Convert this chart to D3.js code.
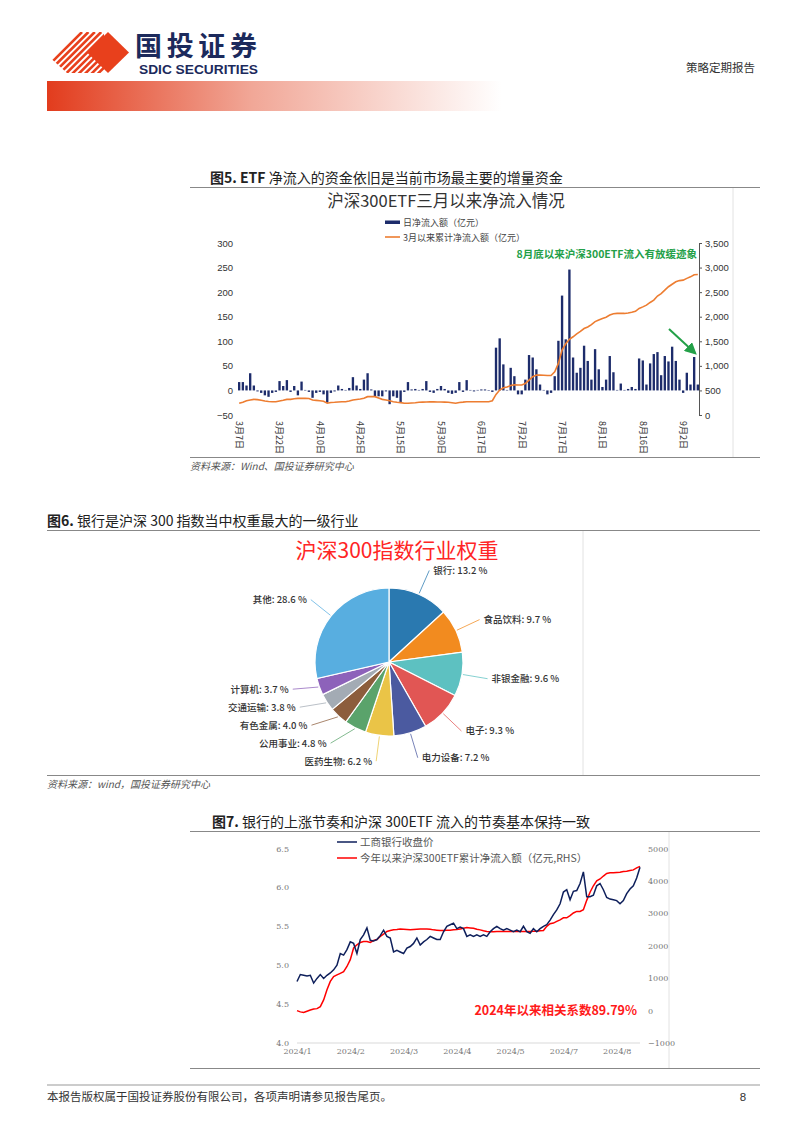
<!DOCTYPE html>
<html>
<head>
<meta charset="utf-8">
<script src="https://cdn.jsdelivr.net/npm/d3@7"></script>
<style>
  body { margin: 0; background: #fff; }
  text { font-family: "Noto Sans CJK SC", "Noto Sans", sans-serif; }
</style>
</head>
<body>
<div id="page"></div>
<script>
// ---- chart 1: daily / cumulative ETF flow since March
var etfDates = ["3月7日", "3月22日", "4月10日", "4月25日", "5月15日", "5月30日",
  "6月17日", "7月2日", "7月17日", "8月1日", "8月16日", "9月2日"];
var etfDaily = [17, 17, 10, 35, 10, -2, -5, -10, -13, -5, -3, 19, 9, 21, -3, 9, -10, 18, 1, -3,
  -15, -5, -3, -8, -25, -5, -2, 10, 3, 1, 5, 27, 10, 3, 22, 35, 2, -12, -12, -12,
  -2, -28, -12, -15, -25, -3, 17, 2, 3, 1, 3, 19, -3, -5, 3, 9, 3, -5, -7, -5,
  17, -3, 21, 1, -2, 1, 2, 2, -1, -3,
  87, 106, 53, 1, 46, 29, -8, -8, 22, 72, 67, 43, 12, 1, -8, -5, 29, 101, 193, 104,
  246, 67, 36, 46, 91, 60, 22, 84, 43, 7, 22, 70, 37, 1, 14, 1, 3, 7, 3, 65,
  61, 12, 55, 74, 78, 31, 70, 59, 89, 60, 22, -5, 36, 12, 68, 12];
var etfCumulative = [238, 260, 290, 305, 318, 312, 300, 285, 275, 271, 271, 285, 300, 318, 318,
  330, 339, 339, 339, 335, 305, 298, 291, 280, 240, 255, 258, 265, 271, 271,
  285, 305, 315, 325, 339, 373, 375, 373, 345, 318, 305, 290, 271, 260, 251,
  240, 238, 245, 250, 258, 262, 265, 271, 268, 265, 265, 262, 258, 250, 238,
  255, 262, 271, 271, 271, 271, 271, 271, 271, 290,
  420, 508, 555, 570, 600, 615, 610, 610, 640, 711, 779, 813, 812, 808, 805,
  805, 881, 1050, 1321, 1450, 1540, 1592, 1650, 1700, 1760, 1790, 1840, 1900, 1935, 1965,
  1990, 2033, 2060, 2067, 2067, 2067, 2075, 2090, 2110, 2168, 2200, 2236, 2290, 2337, 2420,
  2470, 2541, 2610, 2660, 2710, 2735, 2744, 2780, 2811, 2855, 2860];
var etfLeftTicks = [300, 250, 200, 150, 100, 50, 0, -50];
var etfRightTicks = [3500, 3000, 2500, 2000, 1500, 1000, 500, 0];

// ---- chart 2: CSI 300 industry weights
var pieSectors = ["银行", "食品饮料", "非银金融", "电子", "电力设备", "医药生物",
  "公用事业", "有色金属", "交通运输", "计算机", "其他"];
var pieWeights = [13.2, 9.7, 9.6, 9.3, 7.2, 6.2, 4.8, 4.0, 3.8, 3.7, 28.6];

// ---- chart 3: ICBC close vs YTD ETF inflow
var icbcDates = ["2024/1", "2024/2", "2024/3", "2024/4", "2024/5", "2024/7", "2024/8"];
var icbcClose = [4.79, 4.88, 4.87, 4.86, 4.87, 4.77, 4.83, 4.88, 4.83, 4.87,
  4.90, 4.94, 5.00, 5.15, 5.13, 5.20, 5.30, 5.28, 5.15, 5.33,
  5.39, 5.48, 5.32, 5.31, 5.33, 5.38, 5.45, 5.37, 5.35, 5.17,
  5.19, 5.17, 5.15, 5.22, 5.24, 5.28, 5.35, 5.26, 5.30, 5.33,
  5.37, 5.35, 5.33, 5.33, 5.43, 5.50, 5.52, 5.54, 5.47, 5.49,
  5.47, 5.37, 5.39, 5.37, 5.39, 5.37, 5.39, 5.37, 5.43, 5.47,
  5.50, 5.47, 5.45, 5.47, 5.45, 5.43, 5.45, 5.43, 5.50, 5.43,
  5.41, 5.47, 5.43, 5.47, 5.50, 5.52, 5.58, 5.65, 5.71, 5.79,
  5.94, 5.97, 5.84, 5.95, 5.96, 6.05, 6.20, 5.88, 5.88, 5.90,
  6.02, 6.05, 5.97, 5.87, 5.85, 5.84, 5.83, 5.79, 5.83, 5.92,
  5.98, 6.02, 6.12, 6.26];
var etfYtdFlow = [0, -40, -60, -20, 20, 50, 60, 120, 330, 640,
  900, 1050, 1100, 1150, 1200, 1360, 1570, 1930, 2030, 2100,
  2130, 2130, 2100, 2160, 2190, 2290, 2360, 2440, 2470, 2490,
  2500, 2520, 2510, 2500, 2490, 2500, 2510, 2520, 2520, 2520,
  2510, 2490, 2480, 2470, 2470, 2480, 2480, 2490, 2500, 2520,
  2540, 2560, 2550, 2540, 2510, 2490, 2460, 2440, 2430, 2430,
  2440, 2440, 2440, 2440, 2440, 2440, 2440, 2440, 2440, 2440,
  2440, 2450, 2450, 2460, 2470, 2600, 2680, 2700, 2750, 2800,
  2860, 2860, 2930, 3010, 3060, 3060, 3110, 3400, 3650, 3850,
  4000, 4060, 4150, 4230, 4250, 4250, 4260, 4270, 4290, 4300,
  4320, 4340, 4400, 4450];
var icbcLeftTicks = [6.5, 6.0, 5.5, 5.0, 4.5, 4.0];
var icbcRightTicks = [5000, 4000, 3000, 2000, 1000, 0, -1000];


var W = 802, H = 1133;
var svg = d3.select("#page").append("svg")
  .attr("width", W)
  .attr("height", H);
svg.append("rect").attr("width", W).attr("height", H).attr("fill", "#fff");
var defs = svg.append("defs");

// ---------------- header
var grad = defs.append("linearGradient").attr("id", "hdrGrad");
grad.append("stop").attr("offset", "0%").attr("stop-color", "#e23c1d");
grad.append("stop").attr("offset", "45%").attr("stop-color", "#f1a797");
grad.append("stop").attr("offset", "100%").attr("stop-color", "#ffffff");
svg.append("rect")
  .attr("x", 47).attr("y", 81).attr("width", 455).attr("height", 30)
  .attr("fill", "url(#hdrGrad)");

defs.append("clipPath").attr("id", "stripeClip")
  .append("polygon").attr("points", "46,54 68,32 104,32 104,73 67,73");
var logo = svg.append("g").attr("clip-path", "url(#stripeClip)");
d3.range(10).forEach(function (i) {
  var x0 = 36 + i * 6.4;
  logo.append("line")
    .attr("x1", x0).attr("y1", 78).attr("x2", x0 + 46).attr("y2", 32)
    .attr("stroke", "#e8401c").attr("stroke-width", 2.6);
});
svg.append("polygon").attr("points", "108,32 129,52.5 108,73 87,52.5").attr("fill", "#e8401c");

svg.append("text")
  .attr("x", 135).attr("y", 55.5)
  .attr("textLength", 122)
  .style("font-size", "27px").style("font-weight", "bold").style("fill", "#1c2a5c")
  .text("国投证券");
svg.append("text")
  .attr("x", 139).attr("y", 73.5)
  .attr("textLength", 119).attr("lengthAdjust", "spacingAndGlyphs")
  .style("font-family", '"Liberation Sans Narrow", "Liberation Sans", sans-serif')
  .style("font-size", "12px").style("font-weight", "bold").style("fill", "#1c2a5c")
  .text("SDIC SECURITIES");
svg.append("text")
  .attr("x", 755).attr("y", 72)
  .attr("text-anchor", "end")
  .style("font-size", "11.5px").style("fill", "#333")
  .text("策略定期报告");

// helper for section headings
function heading(x, y, prefix, rest) {
  var t = svg.append("text").attr("x", x).attr("y", y)
    .style("font-size", "14px").style("fill", "#222");
  t.append("tspan").style("font-weight", "bold").text(prefix);
  t.append("tspan").text(rest);
}
function rule(x1, x2, y, w, c) {
  svg.append("line").attr("x1", x1).attr("x2", x2).attr("y1", y).attr("y2", y)
    .attr("stroke", c || "#888").attr("stroke-width", w || 1.2);
}
function vrule(x, y1, y2) {
  svg.append("line").attr("x1", x).attr("x2", x).attr("y1", y1).attr("y2", y2)
    .attr("stroke", "#e2e2e2").attr("stroke-width", 1);
}

// ---------------- chart 1
heading(210, 183, "图5. ETF ", "净流入的资金依旧是当前市场最主要的增量资金");
rule(190, 760, 187.5);
vrule(733, 188, 457);

svg.append("text")
  .attr("x", 446).attr("y", 207)
  .attr("text-anchor", "middle")
  .style("font-size", "16.5px").style("fill", "#333")
  .text("沪深300ETF三月以来净流入情况");

// legend
svg.append("rect").attr("x", 385).attr("y", 220.5).attr("width", 15).attr("height", 3.5).attr("fill", "#1d2c6b");
svg.append("text").attr("x", 403).attr("y", 225.5)
  .style("font-size", "9px").style("fill", "#444").text("日净流入额（亿元）");
svg.append("line").attr("x1", 385).attr("x2", 400).attr("y1", 237).attr("y2", 237)
  .attr("stroke", "#ed7d31").attr("stroke-width", 1.6);
svg.append("text").attr("x", 403).attr("y", 240.5)
  .style("font-size", "9px").style("fill", "#444").text("3月以来累计净流入额（亿元）");

var x1 = d3.scaleBand()
  .domain(d3.range(etfDaily.length))
  .range([238, 699])
  .paddingInner(0.36);
var yL = d3.scaleLinear().domain([-50, 300]).range([415, 243]);
var yR = d3.scaleLinear().domain([0, 3500]).range([415, 243]);

var leftAxis = svg.append("g")
  .attr("transform", "translate(236,0)")
  .call(d3.axisLeft(yL).tickValues(etfLeftTicks).tickSize(0).tickPadding(3));
leftAxis.select(".domain").remove();
leftAxis.selectAll("text")
  .style("font-family", '"Liberation Sans", Arial, sans-serif')
  .style("font-size", "9.5px").style("fill", "#333");

var rightAxis = svg.append("g")
  .attr("transform", "translate(699,0)")
  .call(d3.axisRight(yR).tickValues(etfRightTicks).tickFormat(d3.format(","))
    .tickSize(3).tickSizeOuter(0).tickPadding(3));
rightAxis.select(".domain").attr("stroke", "#555");
rightAxis.selectAll("line").attr("stroke", "#555");
rightAxis.selectAll("text")
  .style("font-family", '"Liberation Sans", Arial, sans-serif')
  .style("font-size", "9.5px").style("fill", "#333");

svg.append("g").selectAll("rect")
  .data(etfDaily)
  .enter()
  .append("rect")
  .attr("x", (d, i) => x1(i))
  .attr("y", d => yL(Math.max(0, d)))
  .attr("width", x1.bandwidth())
  .attr("height", d => Math.abs(yL(d) - yL(0)))
  .attr("fill", "#1d2c6b");

var cumLine = d3.line()
  .x((d, i) => x1(i) + x1.bandwidth() / 2)
  .y(d => yR(d));
svg.append("path")
  .datum(etfCumulative)
  .attr("d", cumLine)
  .attr("fill", "none")
  .attr("stroke", "#ed7d31")
  .attr("stroke-width", 1.6);

svg.append("g").selectAll("text")
  .data(etfDates)
  .enter()
  .append("text")
  .attr("transform", (d, i) => `translate(${x1(i * 11) + x1.bandwidth() / 2}, 421) rotate(90)`)
  .attr("dy", "0.35em")
  .style("font-size", "9px").style("fill", "#333")
  .text(d => d);

svg.append("text")
  .attr("x", 697).attr("y", 258)
  .attr("text-anchor", "end")
  .style("font-size", "10.5px").style("font-weight", "bold").style("fill", "#23a048")
  .text("8月底以来沪深300ETF流入有放缓迹象");

defs.append("marker").attr("id", "greenHead")
  .attr("viewBox", "0 0 10 10").attr("refX", 8).attr("refY", 5)
  .attr("markerWidth", 6).attr("markerHeight", 6).attr("orient", "auto")
  .append("path").attr("d", "M0,0 L10,5 L0,10 z").attr("fill", "#23a048");
svg.append("line")
  .attr("x1", 669).attr("y1", 329).attr("x2", 695).attr("y2", 353)
  .attr("stroke", "#23a048").attr("stroke-width", 2)
  .attr("marker-end", "url(#greenHead)");

rule(190, 760, 457.5);
svg.append("text").attr("x", 190).attr("y", 470)
  .style("font-size", "10px").style("font-style", "italic").style("fill", "#555")
  .text("资料来源：Wind、国投证券研究中心");

// ---------------- chart 2
heading(47, 526, "图6. ", "银行是沪深 300 指数当中权重最大的一级行业");
rule(47, 760, 530.5);
vrule(583, 531, 775);

svg.append("text")
  .attr("x", 397).attr("y", 558)
  .attr("text-anchor", "middle")
  .style("font-size", "21px").style("fill", "#ff2525")
  .text("沪深300指数行业权重");

var pieColor = d3.scaleOrdinal()
  .domain(pieSectors)
  .range(["#2a79b0", "#f28b1f", "#5dc1c1", "#e15654", "#4b5aa0", "#eac447",
    "#5aa36b", "#8c5d3c", "#a3abb4", "#8d62ba", "#58aee0"]);

var cx = 389, cy = 662, r = 74, labelR = 100;
var pie = d3.pie().sort(null).value(d => d);
var arcs = pie(pieWeights);
var arc = d3.arc().innerRadius(0).outerRadius(r);

var pieG = svg.append("g").attr("transform", `translate(${cx},${cy})`);
pieG.selectAll("path")
  .data(arcs)
  .enter()
  .append("path")
  .attr("d", arc)
  .attr("fill", (d, i) => pieColor(pieSectors[i]))
  .attr("stroke", "#fff")
  .attr("stroke-width", 1.2);

// label anchors on a circle, spread apart so they do not overlap
var labels = arcs.map(function (a, i) {
  var m = (a.startAngle + a.endAngle) / 2;
  return {
    i: i, m: m,
    x: Math.sin(m) * labelR, y: -Math.cos(m) * labelR,
    sx: Math.sin(m) * (r + 1), sy: -Math.cos(m) * (r + 1)
  };
});
var leftSide = labels.filter(d => d.x < 0).sort((a, b) => b.y - a.y);
for (var k = 1; k < leftSide.length; k++) {
  leftSide[k].y = Math.min(leftSide[k].y, leftSide[k - 1].y - 18);
}
var rightSide = labels.filter(d => d.x >= 0).sort((a, b) => a.y - b.y);
for (var k = 1; k < rightSide.length; k++) {
  rightSide[k].y = Math.max(rightSide[k].y, rightSide[k - 1].y + 18);
}
labels.forEach(function (d) {
  var dx = Math.sqrt(Math.max(0, labelR * labelR - d.y * d.y));
  d.x = d.x < 0 ? -dx : dx;
});

pieG.selectAll("line.leader")
  .data(labels)
  .enter()
  .append("line")
  .attr("class", "leader")
  .attr("x1", d => d.sx).attr("y1", d => d.sy)
  .attr("x2", d => d.x).attr("y2", d => d.y)
  .attr("stroke", d => pieColor(pieSectors[d.i]))
  .attr("stroke-opacity", 0.75)
  .attr("stroke-width", 1);

pieG.selectAll("text.lbl")
  .data(labels)
  .enter()
  .append("text")
  .attr("class", "lbl")
  .attr("x", d => d.x < 0 ? d.x - 4 : d.x + 4)
  .attr("y", d => d.y + 3.5)
  .attr("text-anchor", d => d.x < 0 ? "end" : "start")
  .style("font-size", "9.5px").style("font-weight", "500").style("fill", "#333")
  .text(d => pieSectors[d.i] + ": " + d3.format(".1f")(pieWeights[d.i]) + " %");

rule(47, 760, 775.5);
svg.append("text").attr("x", 47).attr("y", 788)
  .style("font-size", "10px").style("font-style", "italic").style("fill", "#555")
  .text("资料来源：wind，国投证券研究中心");

// ---------------- chart 3
heading(212, 827, "图7. ", "银行的上涨节奏和沪深 300ETF 流入的节奏基本保持一致");
rule(190, 760, 831.5);
vrule(669, 832, 1068);

var x3 = d3.scaleLinear().domain([0, icbcClose.length - 1]).range([297, 640]);
var y3L = d3.scaleLinear().domain([4.0, 6.5]).range([1043, 848.5]);
var y3R = d3.scaleLinear().domain([-1000, 5000]).range([1043, 848.5]);

svg.append("line").attr("x1", 297).attr("x2", 640).attr("y1", 1043).attr("y2", 1043)
  .attr("stroke", "#d9d9d9");

var l3 = svg.append("g").attr("transform", "translate(289,0)")
  .call(d3.axisLeft(y3L).tickValues(icbcLeftTicks).tickFormat(d3.format(".1f")).tickSize(0).tickPadding(0));
l3.select(".domain").remove();
var r3 = svg.append("g").attr("transform", "translate(647,0)")
  .call(d3.axisRight(y3R).tickValues(icbcRightTicks).tickFormat(d3.format("d")).tickSize(0).tickPadding(1));
r3.select(".domain").remove();
[l3, r3].forEach(function (g) {
  g.selectAll("text")
    .style("font-family", '"DejaVu Serif", "Liberation Serif", serif')
    .style("font-size", "8px").style("fill", "#777");
});

var x3Axis = svg.append("g").attr("transform", "translate(0,1043)")
  .call(d3.axisBottom(x3).tickValues(icbcDates.map((d, i) => i * 16))
    .tickFormat((d, i) => icbcDates[i]).tickSize(0).tickPadding(5));
x3Axis.select(".domain").remove();
x3Axis.selectAll("text")
  .style("font-family", '"DejaVu Serif", "Liberation Serif", serif')
  .style("font-size", "8px").style("fill", "#777");

svg.append("path")
  .datum(etfYtdFlow)
  .attr("d", d3.line().x((d, i) => x3(i)).y(d => y3R(d)))
  .attr("fill", "none").attr("stroke", "#ff0000").attr("stroke-width", 1.5);
svg.append("path")
  .datum(icbcClose)
  .attr("d", d3.line().x((d, i) => x3(i)).y(d => y3L(d)))
  .attr("fill", "none").attr("stroke", "#0e1f5b").attr("stroke-width", 1.5);

svg.append("line").attr("x1", 337).attr("x2", 357).attr("y1", 842).attr("y2", 842)
  .attr("stroke", "#0e1f5b").attr("stroke-width", 1.5);
svg.append("text").attr("x", 360).attr("y", 846)
  .style("font-size", "10.5px").style("fill", "#555").text("工商银行收盘价");
svg.append("line").attr("x1", 337).attr("x2", 357).attr("y1", 858).attr("y2", 858)
  .attr("stroke", "#ff0000").attr("stroke-width", 1.5);
svg.append("text").attr("x", 360).attr("y", 862)
  .style("font-size", "10.5px").style("fill", "#555").text("今年以来沪深300ETF累计净流入额（亿元,RHS）");

svg.append("text")
  .attr("x", 637).attr("y", 1015)
  .attr("text-anchor", "end")
  .style("font-size", "12.5px").style("font-weight", "bold").style("fill", "#ff1a1a")
  .text("2024年以来相关系数89.79%");

rule(190, 760, 1068.5);

// ---------------- footer
rule(47, 760, 1085, 1.2, "#999");
svg.append("text").attr("x", 47).attr("y", 1101)
  .style("font-size", "11.5px").style("fill", "#333")
  .text("本报告版权属于国投证券股份有限公司，各项声明请参见报告尾页。");
svg.append("text").attr("x", 743).attr("y", 1101)
  .attr("text-anchor", "middle")
  .style("font-family", '"Liberation Sans", Arial, sans-serif')
  .style("font-size", "11.5px").style("fill", "#333")
  .text("8");
</script>
</body>
</html>
